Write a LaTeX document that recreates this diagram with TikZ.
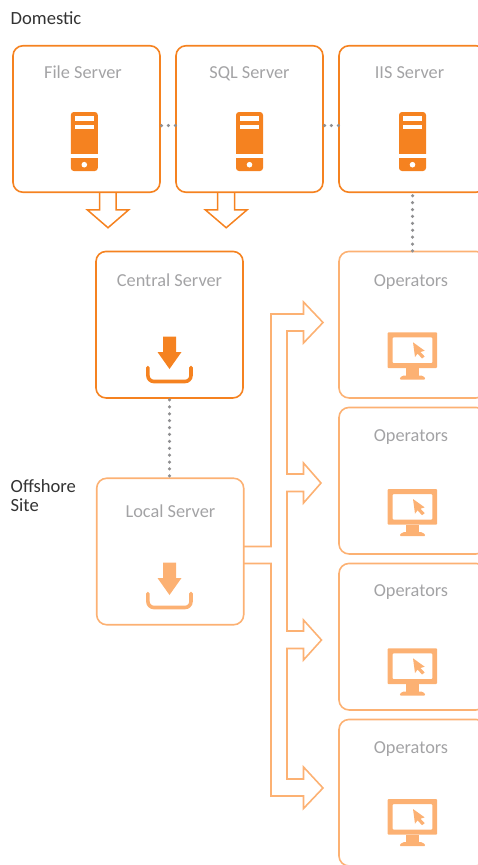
\documentclass[tikz,border=0pt]{standalone}
\usepackage{fontspec}
\setmainfont{Carlito}
\usetikzlibrary{calc}
\definecolor{org}{HTML}{F58220}
\definecolor{lorg}{HTML}{FCB173}
\definecolor{lbl}{HTML}{A3A3A5}
\definecolor{dots}{HTML}{8F8F91}
\tikzset{
  boxd/.style={draw=org,line width=1.6pt,rounded corners=10pt,fill=none,inner sep=0pt,outer sep=0pt,minimum width=147pt,minimum height=146.5pt},
  boxl/.style={boxd,draw=lorg},
  lab/.style={text=lbl,font=\fontsize{18.3}{20}\selectfont,inner sep=0pt,text height=12pt,text depth=4pt},
  captext/.style={text=black!80,font=\fontsize{18.6}{19}\selectfont,inner sep=0pt,align=left,anchor=north west},
  dotline/.style={draw=dots,line width=3.5pt,line cap=round,dash pattern=on 0pt off 6.9pt},
  hollowd/.style={draw=org,line width=1.5pt,line join=miter},
  hollowl/.style={draw=lorg,line width=1.6pt,line join=miter}
}
\newcommand{\srvico}[1]{%
  \fill[org] (#1-13.5,153.8) -- (#1-13.5,115) arc[start angle=180,end angle=90,radius=3pt] -- (#1+10.5,112) arc[start angle=90,end angle=0,radius=3pt] -- (#1+13.5,153.8) -- cycle;
  \fill[org] (#1-13.5,158) -- (#1+13.5,158) -- (#1+13.5,168) arc[start angle=0,end angle=-90,radius=3pt] -- (#1-10.5,171) arc[start angle=270,end angle=180,radius=3pt] -- cycle;
  \fill[white] (#1-9.8,116) rectangle (#1+9.8,120.5);
  \fill[white] (#1-9.8,124.5) rectangle (#1+9.8,129);
  \fill[white] (#1,164.7) circle (2.8pt);
}
\newcommand{\dlico}[2]{%
  \fill[#2] (163,336.7+#1) -- (176,336.7+#1) -- (176,352+#1) -- (181.5,352+#1) -- (169.5,369+#1) -- (157.5,352+#1) -- (163,352+#1) -- cycle;
  \draw[#2,line width=3.6pt,line cap=round,rounded corners=6pt] (147.9,367.5+#1) -- (147.9,381.5+#1) -- (191,381.5+#1) -- (191,367.5+#1);
}
\newcommand{\monico}[1]{%
  \fill[lorg,even odd rule,rounded corners=0.8pt] (387.7,332.3+#1) rectangle (437,368+#1) (392.7,337.3+#1) rectangle (432.3,363+#1);
  \fill[lorg] (405.7,368+#1) rectangle (419,376+#1);
  \fill[lorg,rounded corners=1.6pt] (399,379.5+#1) -- (402,375.5+#1) -- (423,375.5+#1) -- (426,379.5+#1) -- cycle;
  \fill[lorg] (413,342.3+#1) -- (424.7,350.7+#1) -- (420.5,352+#1) -- (424.7,356.5+#1) -- (422,358.5+#1) -- (417.6,353.6+#1) -- (415,357+#1) -- cycle;
}
\begin{document}
\begin{tikzpicture}[x=1pt,y=-1pt]
\useasboundingbox (0,0) rectangle (478,865);
% boxes
\node[boxd] (file) at (86.5,119) {};
\node[boxd] (sql) at (249.5,119) {};
\node[boxd] (iis) at (412.5,119) {};
\node[boxd] (central) at (169.5,324.7) {};
\node[boxl] (local) at (170.2,551.5) {};
\node[boxl] (op1) at (412.5,324.7) {};
\node[boxl] (op2) at (412.5,480.7) {};
\node[boxl] (op3) at (412.5,636.7) {};
\node[boxl] (op4) at (412.5,792.7) {};
% captions
\node[captext] (dom) at (10.5,11.5) {Domestic};
\node[captext] (off) at (10.5,479) {Offshore\\Site};
% labels
\node[lab] (lfile) at (83,74.5) {File Server};
\node[lab] (lsql) at (249.5,74.5) {SQL Server};
\node[lab] (liis) at (409.5,74.5) {IIS Server};
\node[lab] (lcen) at (169.5,282.5) {Central Server};
\node[lab] (lloc) at (170.5,513.5) {Local Server};
\node[lab] (lo1) at (411,282.5) {Operators};
\node[lab] (lo2) at (411,437.5) {Operators};
\node[lab] (lo3) at (411,592.5) {Operators};
\node[lab] (lo4) at (411,749.5) {Operators};
% icons
\srvico{84.3}
\srvico{249.5}
\srvico{412.5}
\dlico{0}{org}
\dlico{226}{lorg}
\monico{0}
\monico{156.7}
\monico{316}
\monico{466.7}
% dotted links
\draw[dotline] ($(file.east)+(1.5,6.5)$) -- ($(sql.west)+(0,6.5)$);
\draw[dotline] ($(sql.east)+(1.5,6.5)$) -- ($(iis.west)+(0,6.5)$);
\draw[dotline] ($(iis.south)+(0,3.5)$) -- ($(op1.north)+(0,-0.5)$);
\draw[dotline] ($(central.south)+(0,2)$) -- ($(local.north)+(-0.7,0)$);
% hollow arrows
\draw[hollowd] ($(file.south)+(13,0)$) -- ++(0,17.5) -- ++(-12.3,0) -- ++(20.8,18) -- ++(20.8,-18) -- ++(-12.7,0) -- ++(0,-17.5);
\draw[hollowd] ($(sql.south)+(-32,0)$) -- ++(0,17.5) -- ++(-12.3,0) -- ++(21,18) -- ++(21,-18) -- ++(-12.7,0) -- ++(0,-17.5);
\draw[hollowl] ($(local.east)+(0,-5)$) -- (271,546.5) -- (271,314) -- (303.5,314) -- (303.5,302) -- (323,322.5) -- (303.5,343) -- (303.5,331) -- (287,331)
  -- (287,474) -- (303.5,474) -- (303.5,463) -- (321,483) -- (303.5,503) -- (303.5,491.5) -- (287,491.5)
  -- (287,631) -- (303.5,631) -- (303.5,620) -- (321.5,640) -- (303.5,660) -- (303.5,648.5) -- (287,648.5)
  -- (287,779) -- (303.5,779) -- (303.5,767) -- (323,788) -- (303.5,808.5) -- (303.5,796) -- (271,796)
  -- (271,563.5) -- ($(local.east)+(0,12)$);
\end{tikzpicture}
\end{document}
